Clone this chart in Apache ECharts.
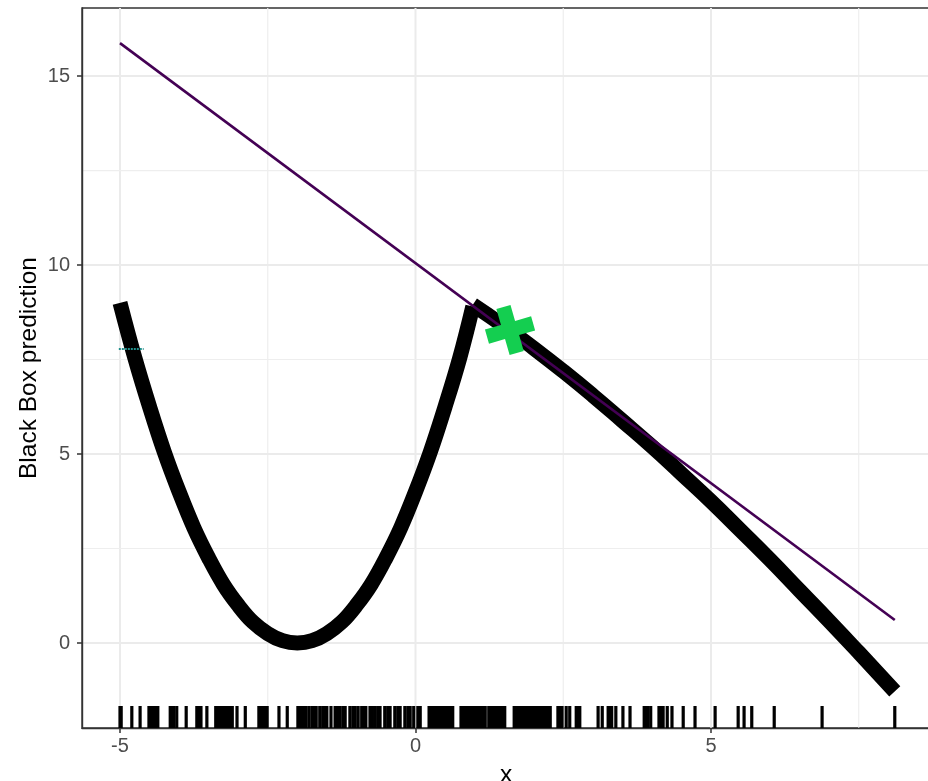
<!DOCTYPE html>
<html>
<head>
<meta charset="utf-8">
<script src="https://cdn.jsdelivr.net/npm/echarts@6/dist/echarts.min.js"></script>
<style>
html,body{margin:0;padding:0;background:#fff;}
#chart{width:928px;height:781px;}
</style>
</head>
<body>
<div id="chart"></div>
<script>
// ---- data ----
const X_MIN = -5.643, X_MAX = 8.706;
const Y_MIN = -2.249, Y_MAX = 16.80;
const xTicks = [-5, 0, 5];
const xMinor = [-2.5, 2.5, 7.5];
const yTicks = [0, 5, 10, 15];
const yMinor = [2.5, 7.5, 12.5];

// black box prediction, left branch
const leftX = [-5, -4.75, -4.5, -4.25, -4, -3.75, -3.5, -3.25, -3, -2.75, -2.5, -2.25, -2, -1.75, -1.5, -1.25, -1, -0.75, -0.5, -0.25, 0, 0.25, 0.5, 0.75, 0.97];
const leftY = [9.0, 7.55, 6.25, 5.05, 4.0, 3.05, 2.25, 1.55, 1.0, 0.55, 0.25, 0.06, 0.0, 0.06, 0.25, 0.55, 1.0, 1.55, 2.25, 3.05, 4.0, 5.05, 6.25, 7.55, 8.9];
// black box prediction, right branch
const rightX = [0.97, 1.5, 2, 2.5, 3, 3.5, 4, 4.5, 5, 5.5, 6, 6.5, 7, 7.5, 8.11];
const rightY = [8.95, 8.38, 7.8, 7.19, 6.55, 5.88, 5.2, 4.48, 3.75, 2.98, 2.2, 1.39, 0.58, -0.25, -1.28];

// local linear surrogate
const lineX = [-5, 8.11];
const lineY = [15.87, 0.61];

// instance of interest
const pointX = [1.6];
const pointY = [8.28];

// small teal dashed mark near left end
const tealX = [-5.02, -4.6];
const tealY = [7.78, 7.78];

// rug of feature values
const rugX = [-5.00, -4.98, -4.80, -4.66, -4.51, -4.47, -4.44, -4.40, -4.36, -4.15, -4.12, -4.09, -4.04, -3.88, -3.70, -3.66, -3.63, -3.53,
  -3.38, -3.34, -3.31, -3.27, -3.24, -3.20, -3.17, -3.13, -3.10, -3.02, -2.88, -2.65, -2.61, -2.58, -2.54, -2.51, -2.31, -2.17,
  -1.99, -1.95, -1.92, -1.88, -1.85, -1.80, -1.75, -1.71, -1.68, -1.62, -1.57, -1.53, -1.50, -1.43, -1.36, -1.32, -1.28, -1.23, -1.19, -1.11,
  -1.06, -1.02, -0.97, -0.91, -0.87, -0.84, -0.77, -0.73, -0.69, -0.64, -0.60, -0.52, -0.47, -0.43, -0.35, -0.30, -0.26, -0.18, -0.13, -0.09, -0.03, 0.04, 0.08,
  0.23, 0.27, 0.30, 0.33, 0.36, 0.40, 0.43, 0.47, 0.50, 0.54, 0.57, 0.60, 0.63,
  0.77, 0.80, 0.84, 0.88, 0.91, 0.94, 0.97, 1.01, 1.04, 1.08, 1.11, 1.15, 1.18, 1.24, 1.28, 1.31, 1.35, 1.38, 1.42, 1.45, 1.48, 1.51,
  1.67, 1.70, 1.73, 1.77, 1.80, 1.84, 1.87, 1.90, 1.94, 1.97, 2.01, 2.04, 2.07, 2.10, 2.14, 2.17, 2.21, 2.25, 2.28,
  2.41, 2.45, 2.48, 2.55, 2.61, 2.72, 2.75, 2.78,
  3.09, 3.16, 3.26, 3.29, 3.32, 3.39, 3.51, 3.63, 3.87, 3.90, 3.93, 3.98, 4.12, 4.16, 4.19, 4.26, 4.34,
  4.53, 4.73, 5.07, 5.46, 5.56, 5.69, 6.07, 6.88, 8.11];

const zip = (a, b) => a.map((v, i) => [v, b[i]]);
const FONT = 'Liberation Sans, Arial, sans-serif';

const chart = echarts.init(document.getElementById('chart'), null, {renderer: 'canvas'});

// grid lines: [orientation (0 vertical, 1 horizontal), value, major(1)/minor(0)]
const gridData = [];
xTicks.forEach(v => gridData.push([0, v, 1]));
xMinor.forEach(v => gridData.push([0, v, 0]));
yTicks.forEach(v => gridData.push([1, v, 1]));
yMinor.forEach(v => gridData.push([1, v, 0]));

const option = {
  backgroundColor: '#ffffff',
  animation: false,
  grid: {left: 82, top: 8, right: -2, bottom: 53, outerBoundsMode: 'none', containLabel: false,
         show: true, borderColor: '#333333', borderWidth: 1.4, backgroundColor: 'transparent'},
  xAxis: {
    type: 'value', min: X_MIN, max: X_MAX,
    axisLine: {show: true, onZero: false, lineStyle: {color: '#333333', width: 1.4}},
    axisTick: {show: true, customValues: xTicks, length: 5, lineStyle: {color: '#333333', width: 1.5}},
    axisLabel: {customValues: xTicks, fontSize: 20, color: '#4D4D4D', margin: 8, fontFamily: FONT},
    splitLine: {show: false},
    name: 'x', nameLocation: 'middle', nameGap: 35, nameMoveOverlap: false,
    nameTextStyle: {fontSize: 24.5, color: '#000', fontFamily: FONT}
  },
  yAxis: {
    type: 'value', min: Y_MIN, max: Y_MAX,
    axisLine: {show: true, onZero: false, lineStyle: {color: '#333333', width: 1.4}},
    axisTick: {show: true, customValues: yTicks, length: 5, lineStyle: {color: '#333333', width: 1.5}},
    axisLabel: {customValues: yTicks, fontSize: 20, color: '#4D4D4D', margin: 12, fontFamily: FONT},
    splitLine: {show: false},
    name: 'Black Box prediction', nameLocation: 'middle', nameGap: 40, nameMoveOverlap: false,
    nameTextStyle: {fontSize: 24.5, color: '#000', fontFamily: FONT}
  },
  series: [
    {
      type: 'custom', z: 0, silent: true, clip: true,
      data: gridData,
      renderItem: function (params, api) {
        const cs = params.coordSys;
        const o = api.value(0), v = api.value(1), major = api.value(2);
        const w = major ? 2 : 1.2;
        const col = major ? '#EBEBEB' : '#EEEEEE';
        if (o === 0) {
          const p = api.coord([v, Y_MIN]);
          return {type: 'line', shape: {x1: p[0], y1: cs.y, x2: p[0], y2: cs.y + cs.height}, style: {stroke: col, lineWidth: w}};
        }
        const p = api.coord([X_MIN, v]);
        return {type: 'line', shape: {x1: cs.x, y1: p[1], x2: cs.x + cs.width, y2: p[1]}, style: {stroke: col, lineWidth: w}};
      }
    },
    {
      type: 'custom', z: 3, silent: true,
      data: rugX.map(v => [v]),
      renderItem: function (params, api) {
        const p = api.coord([api.value(0), Y_MIN]);
        return {type: 'line', shape: {x1: p[0], y1: p[1], x2: p[0], y2: p[1] - 22}, style: {stroke: '#000000', lineWidth: 3.2}};
      }
    },
    {
      type: 'line', data: zip(leftX, leftY), smooth: 0.4, showSymbol: false, z: 4,
      lineStyle: {color: '#000000', width: 15, cap: 'butt', join: 'round'}
    },
    {
      type: 'line', data: zip(rightX, rightY), smooth: 0.5, showSymbol: false, z: 4,
      lineStyle: {color: '#000000', width: 15, cap: 'butt', join: 'round'}
    },
    {
      type: 'line', data: zip(lineX, lineY), showSymbol: false, z: 5,
      lineStyle: {color: '#440154', width: 2.6}
    },
    {
      type: 'line', data: zip(tealX, tealY), showSymbol: false, z: 5,
      lineStyle: {color: '#21908C', width: 2, type: [2, 1]}
    },
    {
      type: 'scatter', data: zip(pointX, pointY), z: 6,
      symbol: 'path://M5,0 H9.4 V5 H14.4 V9.4 H9.4 V14.4 H5 V9.4 H0 V5 H5 Z',
      symbolSize: 48, symbolRotate: 16, symbolKeepAspect: true,
      itemStyle: {color: '#14CE50', opacity: 1}
    }
  ]
};
chart.setOption(option);
</script>
</body>
</html>
